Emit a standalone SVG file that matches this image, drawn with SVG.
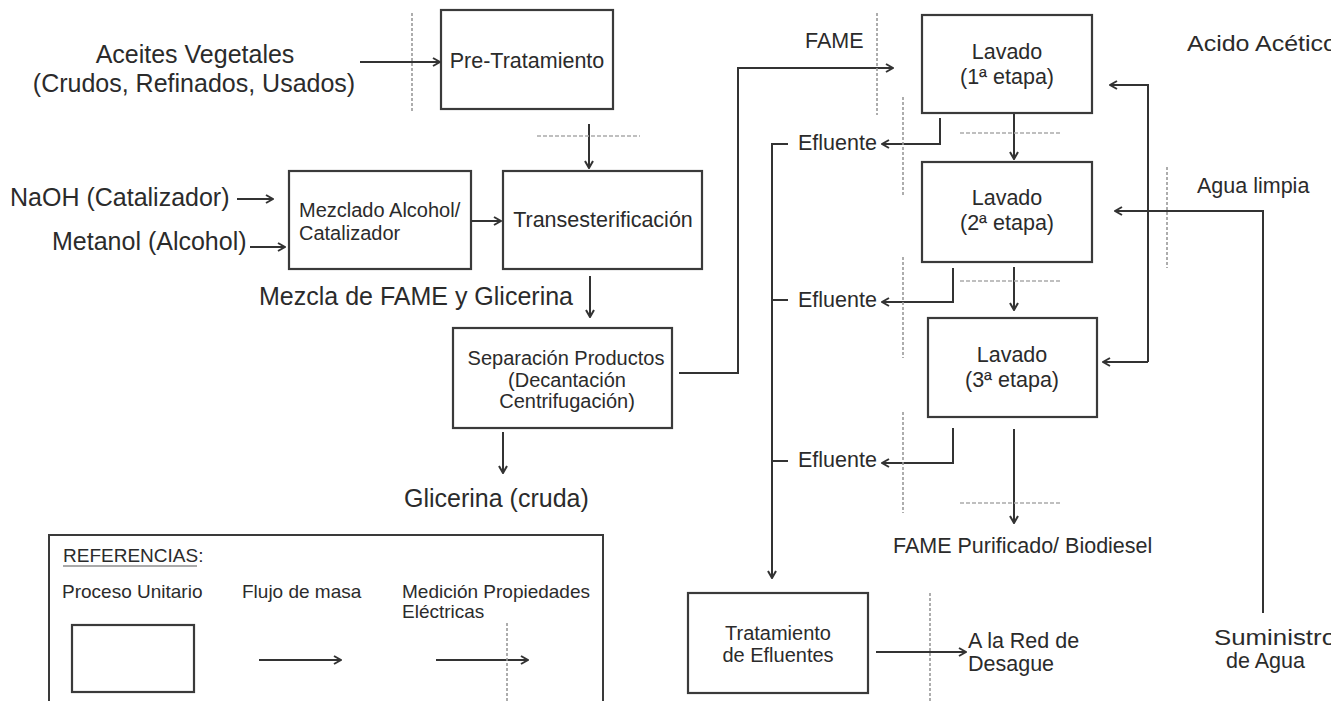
<svg xmlns="http://www.w3.org/2000/svg" width="1331" height="701" viewBox="0 0 1331 701">
<style>
text{font-family:"Liberation Sans",Arial,sans-serif;fill:#2b2b2b}
.t25{font-size:25px}
.t22{font-size:21.5px}
.t20{font-size:20px}
.t19{font-size:19px}
.box{fill:#fff;stroke:#3a3a3a;stroke-width:2.2}
.ln{fill:none;stroke:#333;stroke-width:2}
.arr{fill:none;stroke:#333;stroke-width:2;marker-end:url(#ah)}
.dot{fill:none;stroke:#999;stroke-width:1.6;stroke-dasharray:3 2}
.dash{fill:none;stroke:#aaa;stroke-width:1.4;stroke-dasharray:4 2}
</style>
<defs>
<marker id="ah" viewBox="0 0 10 10" refX="9" refY="5" markerWidth="10" markerHeight="10" orient="auto" markerUnits="userSpaceOnUse">
<path d="M2,1 L9,5 L2,9" fill="none" stroke="#333" stroke-width="2"/>
</marker>
</defs>
<rect width="1331" height="701" fill="#fff"/>

<g id="labels">
<text class="t25" x="195" y="63" text-anchor="middle">Aceites Vegetales</text>
<text class="t25" x="194" y="92" text-anchor="middle">(Crudos, Refinados, Usados)</text>
<text class="t25" x="10" y="206">NaOH (Catalizador)</text>
<text class="t25" x="52" y="250">Metanol (Alcohol)</text>
<text class="t25" x="259" y="305">Mezcla de FAME y Glicerina</text>
<text class="t25" x="404" y="507">Glicerina (cruda)</text>
<text class="t22" x="805" y="48">FAME</text>
<text class="t22" x="1187" y="51" textLength="150" lengthAdjust="spacingAndGlyphs">Acido Acético</text>
<text class="t22" x="798" y="150">Efluente</text>
<text class="t22" x="798" y="307">Efluente</text>
<text class="t22" x="798" y="467">Efluente</text>
<text class="t22" x="1197" y="193">Agua limpia</text>
<text class="t22" x="893" y="553">FAME Purificado/ Biodiesel</text>
<text class="t22" x="968" y="648">A la Red de</text>
<text class="t22" x="968" y="671">Desague</text>
<text class="t22" x="1214" y="645" textLength="122" lengthAdjust="spacingAndGlyphs">Suministro</text>
<text class="t22" x="1226" y="668">de Agua</text>
</g>

<g id="n-pretratamiento">
<rect class="box" x="441" y="10" width="172" height="99"/>
<text class="t22" x="527" y="68" text-anchor="middle">Pre-Tratamiento</text>
</g>
<g id="n-mezclado">
<rect class="box" x="289" y="171" width="182" height="98"/>
<text class="t20" x="299" y="217">Mezclado Alcohol/</text>
<text class="t20" x="299" y="240">Catalizador</text>
</g>
<g id="n-transesterificacion">
<rect class="box" x="503" y="171" width="199" height="98"/>
<text class="t22" x="603" y="227" text-anchor="middle">Transesterificación</text>
</g>
<g id="n-separacion">
<rect class="box" x="453" y="328" width="219" height="100"/>
<text class="t20" x="566" y="365" text-anchor="middle">Separación Productos</text>
<text class="t20" x="567" y="387" text-anchor="middle">(Decantación</text>
<text class="t20" x="567" y="408" text-anchor="middle">Centrifugación)</text>
</g>
<g id="n-lavado1">
<rect class="box" x="922" y="15" width="170" height="98"/>
<text class="t22" x="1007" y="59" text-anchor="middle">Lavado</text>
<text class="t22" x="1007" y="84" text-anchor="middle">(1ª etapa)</text>
</g>
<g id="n-lavado2">
<rect class="box" x="922" y="162" width="170" height="100"/>
<text class="t22" x="1007" y="205" text-anchor="middle">Lavado</text>
<text class="t22" x="1007" y="230" text-anchor="middle">(2ª etapa)</text>
</g>
<g id="n-lavado3">
<rect class="box" x="928" y="318" width="169" height="99"/>
<text class="t22" x="1012" y="362" text-anchor="middle">Lavado</text>
<text class="t22" x="1012" y="387" text-anchor="middle">(3ª etapa)</text>
</g>
<g id="n-tratamiento">
<rect class="box" x="688" y="593" width="180" height="100"/>
<text class="t20" x="778" y="640" text-anchor="middle">Tratamiento</text>
<text class="t20" x="778" y="662" text-anchor="middle">de Efluentes</text>
</g>

<g id="connectors">
<line class="arr" x1="360" y1="62" x2="440" y2="62"/>
<line class="arr" x1="589" y1="124" x2="589" y2="168"/>
<line class="arr" x1="237" y1="199" x2="273" y2="199"/>
<line class="arr" x1="250" y1="247" x2="285" y2="247"/>
<line class="arr" x1="471" y1="221" x2="501" y2="221"/>
<line class="arr" x1="590" y1="276" x2="590" y2="317"/>
<line class="arr" x1="503" y1="432" x2="503" y2="473"/>
<polyline class="arr" points="679,373 738,373 738,68 893,68"/>
<line class="arr" x1="1014" y1="114" x2="1014" y2="159"/>
<line class="arr" x1="1014" y1="267" x2="1014" y2="310"/>
<line class="arr" x1="1014" y1="429" x2="1014" y2="523"/>
<polyline class="arr" points="940,118 940,144 882,144"/>
<polyline class="arr" points="953,268 953,302 882,302"/>
<polyline class="arr" points="953,428 953,463 882,463"/>
<polyline class="arr" points="1148,362 1148,85 1110,85"/>
<line class="arr" x1="1148" y1="362" x2="1103" y2="362"/>
<polyline class="arr" points="1263,613 1263,211 1115,211"/>
<polyline class="arr" points="788,144 772,144 772,578"/>
<line class="ln" x1="772" y1="300" x2="788" y2="300"/>
<line class="ln" x1="772" y1="461" x2="788" y2="461"/>
<line class="arr" x1="876" y1="652" x2="966" y2="652"/>
</g>

<g id="measurement-points">
<line class="dot" x1="412" y1="13" x2="412" y2="113"/>
<line class="dash" x1="537" y1="136" x2="640" y2="136"/>
<line class="dot" x1="877" y1="13" x2="877" y2="115"/>
<line class="dot" x1="903" y1="97" x2="903" y2="197"/>
<line class="dot" x1="903" y1="257" x2="903" y2="358"/>
<line class="dot" x1="903" y1="412" x2="903" y2="513"/>
<line class="dash" x1="960" y1="133" x2="1062" y2="133"/>
<line class="dash" x1="960" y1="281" x2="1062" y2="281"/>
<line class="dash" x1="960" y1="503" x2="1062" y2="503"/>
<line class="dot" x1="1167" y1="167" x2="1167" y2="268"/>
<line class="dot" x1="930" y1="593" x2="930" y2="701"/>
</g>

<g id="legend">
<rect x="49" y="535" width="554" height="180" fill="none" stroke="#3a3a3a" stroke-width="2"/>
<text class="t19" x="63" y="562">REFERENCIAS:</text>
<line x1="63" y1="566" x2="197" y2="566" stroke="#555" stroke-width="1.2"/>
<text class="t19" x="62" y="598">Proceso Unitario</text>
<text class="t19" x="242" y="598">Flujo de masa</text>
<text class="t19" x="402" y="598">Medición Propiedades</text>
<text class="t19" x="402" y="618">Eléctricas</text>
<rect class="box" x="72" y="625" width="122" height="67"/>
<line class="arr" x1="259" y1="660" x2="341" y2="660"/>
<line class="arr" x1="436" y1="660" x2="528" y2="660"/>
<line class="dot" x1="507" y1="623" x2="507" y2="701"/>
</g>
</svg>
